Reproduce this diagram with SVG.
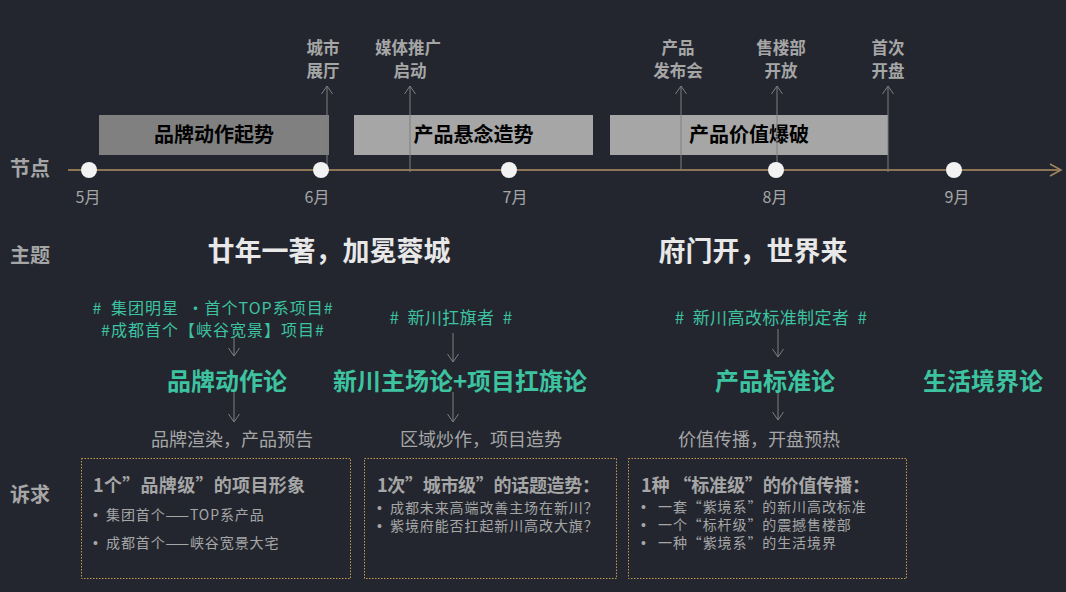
<svg xmlns="http://www.w3.org/2000/svg" width="1066" height="592" viewBox="0 0 1066 592">
<defs>
<style>
text{font-family:"Noto Sans CJK SC","Noto Sans",sans-serif;}
.lbl{fill:#a6a6a6;font-weight:bold;font-size:20px;}
.ev{fill:#a6a6a6;font-weight:bold;font-size:16.5px;text-anchor:middle;}
.mon{fill:#a6a6a6;font-size:16px;text-anchor:middle;}
.ph{font-weight:bold;font-size:20px;fill:#000;text-anchor:middle;}
.big{fill:#e8e8e8;font-weight:bold;font-size:27px;text-anchor:middle;}
.tag{fill:#3dc3a0;font-size:17px;text-anchor:middle;letter-spacing:0.4px;word-spacing:4px;}
.tag2{fill:#3dc3a0;font-size:16px;text-anchor:middle;letter-spacing:1px;word-spacing:4px;}
.th{fill:#3dc3a0;font-weight:bold;font-size:24px;text-anchor:middle;}
.sub{fill:#a6a6a6;font-size:18px;text-anchor:middle;}
.bh{fill:#a6a6a6;font-weight:bold;font-size:18px;}
.bt{fill:#a6a6a6;font-size:14px;letter-spacing:0.9px;}
.bu{font-family:"Liberation Sans",sans-serif;}
.box{fill:none;stroke:#c59b4e;stroke-width:1;stroke-dasharray:1.5 1.5;}
.ar{stroke:#7f7f7f;stroke-width:1;fill:none;}
.dot{fill:#f2f2f2;}
</style>
<marker id="ah" markerUnits="userSpaceOnUse" markerWidth="14" markerHeight="14" refX="7" refY="1" orient="0" viewBox="0 0 14 14">
<path d="M1.5 9 L7 1 L12.5 9" fill="none" stroke="#7f7f7f" stroke-width="1"/>
</marker>
<marker id="ahd" markerUnits="userSpaceOnUse" markerWidth="14" markerHeight="14" refX="7" refY="13" orient="0" viewBox="0 0 14 14">
<path d="M1.5 5 L7 13 L12.5 5" fill="none" stroke="#7f7f7f" stroke-width="1"/>
</marker>
<marker id="ta" markerUnits="userSpaceOnUse" markerWidth="16" markerHeight="16" refX="14" refY="8" orient="0" viewBox="0 0 16 16">
<path d="M3 2 L14 8 L3 14" fill="none" stroke="#a08560" stroke-width="1.5"/>
</marker>
</defs>
<rect width="1066" height="592" fill="#23262f"/>

<g id="row-labels">
<text class="lbl" x="10" y="176">节点</text>
<text class="lbl" x="10" y="263">主题</text>
<text class="lbl" x="10" y="502">诉求</text>
</g>

<g id="phase-boxes">
<g id="phase1"><rect x="99" y="115" width="230" height="40" fill="#808080"/><text class="ph" x="214" y="142">品牌动作起势</text></g>
<g id="phase2"><rect x="354" y="115" width="239" height="40" fill="#a6a6a6"/><text class="ph" x="473.5" y="142">产品悬念造势</text></g>
<g id="phase3"><rect x="610" y="115" width="278" height="40" fill="#a6a6a6"/><text class="ph" x="749" y="142">产品价值爆破</text></g>
</g>

<g id="connectors">
<line x1="68" y1="170" x2="1061" y2="170" stroke="#8d7455" stroke-width="2" marker-end="url(#ta)"/>
<line class="ar" x1="327" y1="170" x2="327" y2="86" marker-end="url(#ah)"/>
<line class="ar" x1="410" y1="172" x2="410" y2="86" marker-end="url(#ah)"/>
<line class="ar" x1="681" y1="170" x2="681" y2="86" marker-end="url(#ah)"/>
<line class="ar" x1="777" y1="170" x2="777" y2="86" marker-end="url(#ah)"/>
<line class="ar" x1="888" y1="172" x2="888" y2="86" marker-end="url(#ah)"/>
<line class="ar" x1="234" y1="337" x2="234" y2="356" marker-end="url(#ahd)"/>
<line class="ar" x1="234" y1="392" x2="234" y2="422" marker-end="url(#ahd)"/>
<line class="ar" x1="453" y1="333" x2="453" y2="362" marker-end="url(#ahd)"/>
<line class="ar" x1="453" y1="392" x2="453" y2="422" marker-end="url(#ahd)"/>
<line class="ar" x1="778" y1="329" x2="778" y2="357" marker-end="url(#ahd)"/>
<line class="ar" x1="778" y1="392" x2="778" y2="420" marker-end="url(#ahd)"/>
</g>

<g id="timeline-dots">
<circle class="dot" cx="89" cy="170" r="8"/>
<circle class="dot" cx="321" cy="170" r="8"/>
<circle class="dot" cx="509" cy="170" r="8"/>
<circle class="dot" cx="776" cy="170" r="8"/>
<circle class="dot" cx="954" cy="170" r="8"/>
</g>

<g id="months">
<text class="mon" x="88" y="203">5月</text>
<text class="mon" x="317" y="203">6月</text>
<text class="mon" x="515" y="203">7月</text>
<text class="mon" x="775" y="203">8月</text>
<text class="mon" x="957" y="203">9月</text>
</g>

<g id="events">
<g id="ev1"><text class="ev"><tspan x="323" y="54">城市</tspan><tspan x="323" y="77">展厅</tspan></text></g>
<g id="ev2"><text class="ev"><tspan x="408" y="54">媒体推广</tspan><tspan x="410" y="77">启动</tspan></text></g>
<g id="ev3"><text class="ev"><tspan x="678" y="54">产品</tspan><tspan x="678" y="77">发布会</tspan></text></g>
<g id="ev4"><text class="ev"><tspan x="781" y="54">售楼部</tspan><tspan x="781" y="77">开放</tspan></text></g>
<g id="ev5"><text class="ev"><tspan x="888" y="54">首次</tspan><tspan x="888" y="77">开盘</tspan></text></g>
</g>

<g id="themes">
<text class="big" x="329" y="261">廿年一著，加冕蓉城</text>
<text class="big" x="753" y="261">府门开，世界来</text>
</g>

<g id="col1">
<text class="tag2"><tspan x="213" y="314"># 集团明星 ·首个TOP系项目#</tspan><tspan x="213" y="336">#成都首个【峡谷宽景】项目#</tspan></text>
<text class="th" x="227" y="390">品牌动作论</text>
<text class="sub" x="232" y="446">品牌渲染，产品预告</text>
</g>
<g id="col2">
<text class="tag" x="451" y="324"># 新川扛旗者 #</text>
<text class="th" x="460" y="390">新川主场论+项目扛旗论</text>
<text class="sub" x="481" y="446">区域炒作，项目造势</text>
</g>
<g id="col3">
<text class="tag" x="771" y="324"># 新川高改标准制定者 #</text>
<text class="th" x="775" y="390">产品标准论</text>
<text class="sub" x="759" y="446">价值传播，开盘预热</text>
</g>
<g id="col4">
<text class="th" x="983" y="390">生活境界论</text>
</g>

<g id="appeal1">
<rect class="box" x="81.5" y="458.5" width="269" height="120"/>
<text class="bh" x="93" y="492" textLength="212" lengthAdjust="spacing">1个”品牌级”的项目形象</text>
<text class="bt"><tspan class="bu" x="93" y="520">•</tspan><tspan x="106" y="520">集团首个——TOP系产品</tspan><tspan class="bu" x="93" y="548">•</tspan><tspan x="106" y="548">成都首个——峡谷宽景大宅</tspan></text>
</g>
<g id="appeal2">
<rect class="box" x="364.5" y="458.5" width="252" height="120"/>
<text class="bh" x="377" y="492" textLength="223" lengthAdjust="spacing">1次”城市级”的话题造势：</text>
<text class="bt"><tspan class="bu" x="377" y="513">•</tspan><tspan x="390" y="513">成都未来高端改善主场在新川？</tspan><tspan class="bu" x="377" y="531">•</tspan><tspan x="390" y="531">紫境府能否扛起新川高改大旗？</tspan></text>
</g>
<g id="appeal3">
<rect class="box" x="628.5" y="458.5" width="278" height="120"/>
<text class="bh" x="641" y="492" textLength="229" lengthAdjust="spacing">1种 “标准级”的价值传播：</text>
<text class="bt"><tspan class="bu" x="641" y="512">•</tspan><tspan x="658" y="512">一套“紫境系”的新川高改标准</tspan><tspan class="bu" x="641" y="530">•</tspan><tspan x="658" y="530">一个“标杆级”的震撼售楼部</tspan><tspan class="bu" x="641" y="548">•</tspan><tspan x="658" y="548">一种“紫境系”的生活境界</tspan></text>
</g>
</svg>
